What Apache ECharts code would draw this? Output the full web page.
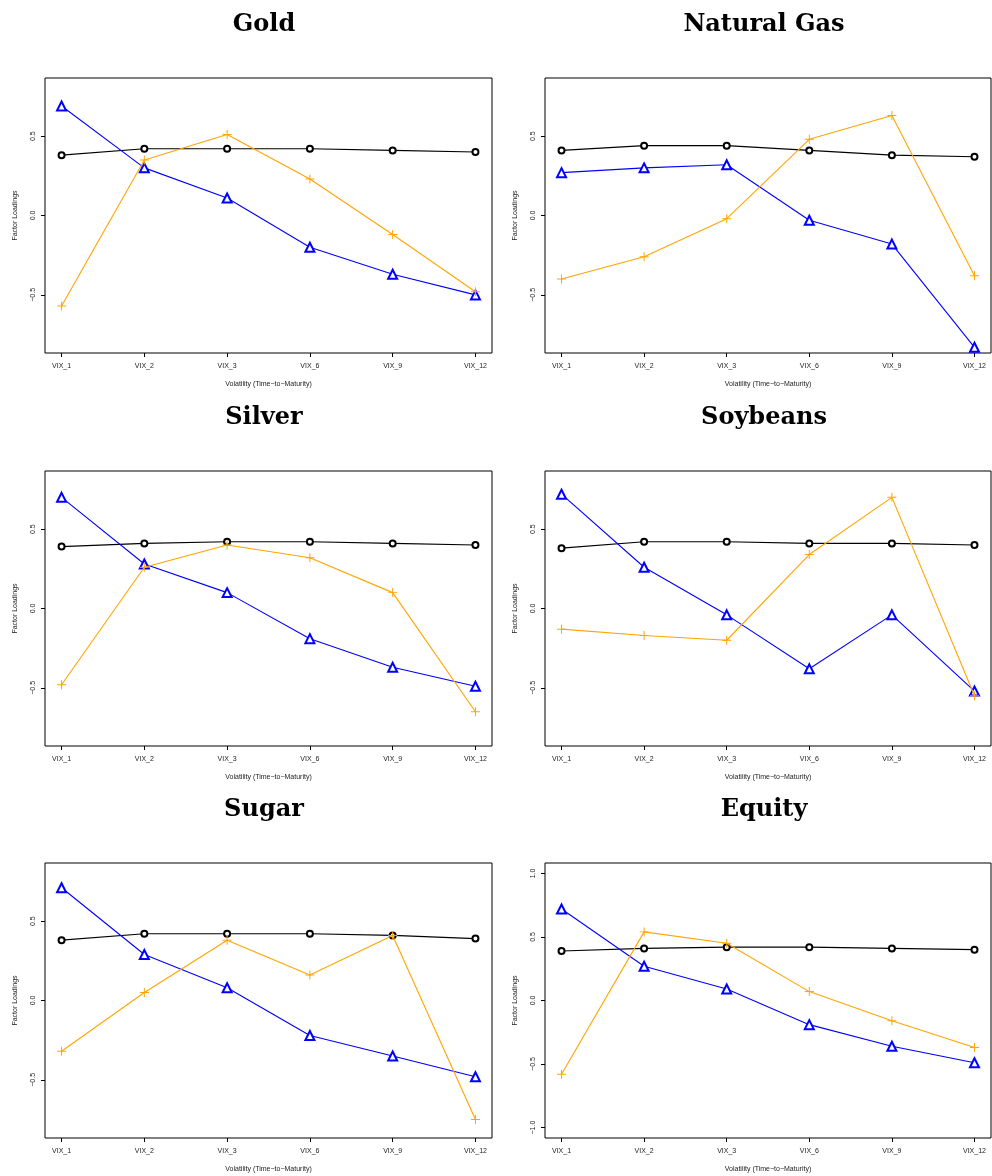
<!DOCTYPE html>
<html>
<head>
<meta charset="utf-8">
<script src="https://cdn.jsdelivr.net/npm/echarts@6/dist/echarts.min.js"></script>
<style>
  html, body { margin: 0; padding: 0; background: #fff; }
  #chart { width: 992px; height: 1176px; }
</style>
</head>
<body>
<div id="chart"></div>
<script>
// Maturity buckets on the x axis
const categories = ['VIX_1', 'VIX_2', 'VIX_3', 'VIX_6', 'VIX_9', 'VIX_12'];

// Panel titles
const panelTitles = ['Gold', 'Natural Gas', 'Silver', 'Soybeans', 'Sugar', 'Equity'];

// Loadings of the first three factors for each market
const goldF1 = [0.38, 0.42, 0.42, 0.42, 0.41, 0.40];
const goldF2 = [0.69, 0.30, 0.11, -0.20, -0.37, -0.50];
const goldF3 = [-0.57, 0.35, 0.51, 0.23, -0.12, -0.48];

const gasF1 = [0.41, 0.44, 0.44, 0.41, 0.38, 0.37];
const gasF2 = [0.27, 0.30, 0.32, -0.03, -0.18, -0.83];
const gasF3 = [-0.40, -0.26, -0.02, 0.48, 0.63, -0.38];

const silverF1 = [0.39, 0.41, 0.42, 0.42, 0.41, 0.40];
const silverF2 = [0.70, 0.28, 0.10, -0.19, -0.37, -0.49];
const silverF3 = [-0.48, 0.26, 0.40, 0.32, 0.10, -0.65];

const soyF1 = [0.38, 0.42, 0.42, 0.41, 0.41, 0.40];
const soyF2 = [0.72, 0.26, -0.04, -0.38, -0.04, -0.52];
const soyF3 = [-0.13, -0.17, -0.20, 0.34, 0.70, -0.55];

const sugarF1 = [0.38, 0.42, 0.42, 0.42, 0.41, 0.39];
const sugarF2 = [0.71, 0.29, 0.08, -0.22, -0.35, -0.48];
const sugarF3 = [-0.32, 0.05, 0.38, 0.16, 0.41, -0.75];

const equityF1 = [0.39, 0.41, 0.42, 0.42, 0.41, 0.40];
const equityF2 = [0.72, 0.27, 0.09, -0.19, -0.36, -0.49];
const equityF3 = [-0.58, 0.54, 0.45, 0.07, -0.16, -0.37];

// y-axis tick labels per panel
const yTicksStd = [-0.5, 0.0, 0.5];
const yTicksWide = [-1.0, -0.5, 0.0, 0.5, 1.0];

const panelFactors = [
  [goldF1, goldF2, goldF3],
  [gasF1, gasF2, gasF3],
  [silverF1, silverF2, silverF3],
  [soyF1, soyF2, soyF3],
  [sugarF1, sugarF2, sugarF3],
  [equityF1, equityF2, equityF3]
];
const panelYTicks = [yTicksStd, yTicksStd, yTicksStd, yTicksStd, yTicksStd, yTicksWide];
const panelYRange = [0.866, 0.866, 0.866, 0.866, 0.866, 1.082];

const xTickValues = categories.map((_, i) => i + 1);
const MINUS = '\u2212';
const fmtY = v => (v < 0 ? MINUS : '') + Math.abs(v).toFixed(1);

const factorColors = ['#000000', '#0000ff', '#ffa500'];
const plusPath = 'path://M4.45,0h1.1v4.45h4.45v1.1h-4.45v4.45h-1.1v-4.45h-4.45v-1.1h4.45z';
const factorSymbols = ['emptyCircle', 'emptyTriangle', plusPath];
const factorSymbolSizes = [6, 9, 9];

const colLeft = [45, 545];
const colWidth = [447, 446];
const rowTop = [78, 471, 863];
const gridHeight = 275;
const titleCenter = [259, 759];
const titleTop = [8, 401, 793];

const sansFont = 'Liberation Sans, Arial, Helvetica, sans-serif';
const small = { fontFamily: sansFont, fontSize: 7, color: '#222' };

const grids = [], xAxes = [], yAxes = [], series = [], titles = [];

panelTitles.forEach((name, p) => {
  const col = p % 2, row = Math.floor(p / 2);
  grids.push({
    left: colLeft[col], top: rowTop[row], width: colWidth[col], height: gridHeight,
    show: true, borderColor: '#000', borderWidth: 1, backgroundColor: 'transparent'
  });
  titles.push({
    text: name,
    left: titleCenter[col], top: titleTop[row], textAlign: 'center',
    textStyle: { fontFamily: 'DejaVu Serif, serif', fontWeight: 'bold', fontSize: 24, color: '#000' }
  });
  xAxes.push({
    type: 'value', gridIndex: p, min: 0.8, max: 6.2, position: 'bottom',
    name: 'Volatility (Time' + MINUS + 'to' + MINUS + 'Maturity)',
    nameLocation: 'middle', nameGap: 28, nameTextStyle: small,
    axisLine: { show: false, onZero: false },
    axisTick: { show: true, length: 4, customValues: xTickValues, lineStyle: { color: '#000', width: 1 } },
    axisLabel: { customValues: xTickValues, margin: 10, formatter: v => categories[Math.round(v) - 1] || '', ...small },
    splitLine: { show: false }
  });
  const r = panelYRange[p];
  yAxes.push({
    type: 'value', gridIndex: p, min: -r, max: r, position: 'left',
    name: 'Factor Loadings', nameLocation: 'middle', nameRotate: 90, nameGap: 26, nameTextStyle: small,
    axisLine: { show: false, onZero: false },
    axisTick: { show: true, length: 4, customValues: panelYTicks[p], lineStyle: { color: '#000', width: 1 } },
    axisLabel: { customValues: panelYTicks[p], rotate: 90, margin: 8, formatter: fmtY, ...small },
    splitLine: { show: false }
  });
  panelFactors[p].forEach((vals, f) => {
    series.push({
      type: 'line', xAxisIndex: p, yAxisIndex: p,
      data: vals.map((v, i) => [i + 1, v]),
      symbol: factorSymbols[f], symbolSize: factorSymbolSizes[f], showAllSymbol: true,
      lineStyle: { color: factorColors[f], width: 1.1 },
      itemStyle: f === 2
        ? { color: factorColors[f], borderWidth: 0 }
        : { color: factorColors[f], borderColor: factorColors[f], borderWidth: 1 },
      z: 2 + f, animation: false, silent: true
    });
  });
});

const chart = echarts.init(document.getElementById('chart'), null, { renderer: 'canvas' });
chart.setOption({
  backgroundColor: '#ffffff',
  animation: false,
  title: titles,
  grid: grids,
  xAxis: xAxes,
  yAxis: yAxes,
  series: series
});
</script>
</body>
</html>
